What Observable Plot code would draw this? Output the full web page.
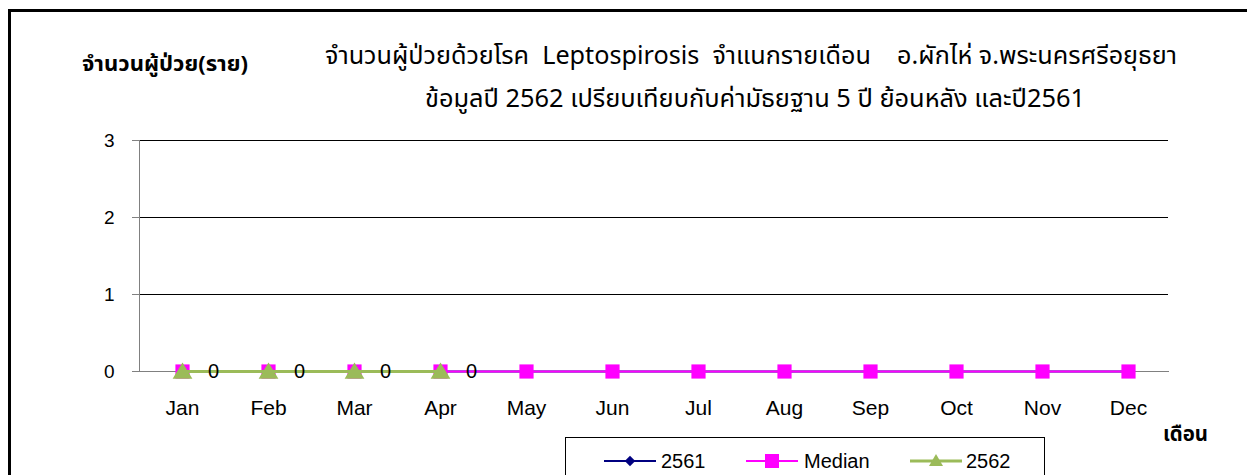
<!DOCTYPE html>
<html>
<head>
<meta charset="utf-8">
<script src="https://cdn.jsdelivr.net/npm/d3@7"></script>
<script src="https://cdn.jsdelivr.net/npm/@observablehq/plot@0.6"></script>
<style>
  html, body { margin: 0; padding: 0; background: #fff; }
  #wrap { position: relative; width: 1247px; height: 475px; overflow: hidden; font-family: Arial, "Liberation Sans", sans-serif; }
  #border { position: absolute; left: 8px; top: 9px; width: 1300px; height: 520px; border: 3px solid #000; box-sizing: border-box; }
  #chart { position: absolute; left: 0; top: 0; }
  .thai { font-family: "Noto Sans Thai", "Tahoma", "DejaVu Sans", sans-serif; position: absolute; white-space: nowrap; color: #000; line-height: 1; transform-origin: 0 50%; }
  #ytitle { left: 82px; top: 54px; font-size: 22px; font-weight: bold; }
  #title1 { left: 325px; top: 44px; font-size: 25px; }
  #title2 { left: 425px; top: 87px; font-size: 25px; }
  #xtitle { left: 1163px; top: 424px; font-size: 22px; font-weight: bold; }
  #legend { position: absolute; left: 565px; top: 437px; width: 480px; height: 60px; border: 1px solid #000; background: #fff; box-sizing: border-box; }
  #legend svg { position: absolute; left: 0; top: 0; }
</style>
</head>
<body>
<div id="wrap">
  <div id="border"></div>
  <div id="chart"></div>
  <div class="thai" id="ytitle">จำนวนผู้ป่วย(ราย)</div>
  <div class="thai" id="title1">จำนวนผู้ป่วยด้วยโรค&nbsp; Leptospirosis&nbsp; จำแนกรายเดือน&nbsp;&nbsp;&nbsp; อ.ผักไห่ จ.พระนครศรีอยุธยา</div>
  <div class="thai" id="title2">ข้อมูลปี 2562 เปรียบเทียบกับค่ามัธยฐาน 5 ปี ย้อนหลัง และปี2561</div>
  <div class="thai" id="xtitle">เดือน</div>
  <div id="legend"></div>
</div>
<script>
const months = ["Jan","Feb","Mar","Apr","May","Jun","Jul","Aug","Sep","Oct","Nov","Dec"];
const values2561 = [0,0,0,0,0,0,0,0,0,0,0,0];
const valuesMedian = [0,0,0,0,0,0,0,0,0,0,0,0];
const values2562 = [0,0,0,0];
const yTicks = [0,1,2,3];
const seriesNames = ["2561","Median","2562"];
const seriesColors = ["#000080","#FF00FF","#9BBB59"];

const d2561 = values2561.map((v,i)=>({month: months[i], value: v}));
const dMed = valuesMedian.map((v,i)=>({month: months[i], value: v}));
const d2562 = values2562.map((v,i)=>({month: months[i], value: v}));

const triangle = {draw(ctx, r){ const s = 9; ctx.moveTo(0,-s); ctx.lineTo(s*1.1, s*0.8); ctx.lineTo(-s*1.1, s*0.8); ctx.closePath(); }};

const chart = Plot.plot({
  width: 1247,
  height: 475,
  marginLeft: 139,
  marginRight: 79,
  marginTop: 140,
  marginBottom: 104,
  style: {fontFamily: "Arial, 'Liberation Sans', sans-serif", fontSize: "18px", background: "transparent", overflow: "visible"},
  x: {type: "point", domain: months, range: [181, 1128], padding: 0},
  y: {domain: [0,3]},
  marks: [
    Plot.ruleY(yTicks.filter(d => d > 0), {stroke: "#000", strokeWidth: 1}),
    Plot.axisY({ticks: yTicks, tickSize: 7, tickPadding: 18, fontSize: 19, stroke: "#808080", strokeOpacity: 1, label: null, tickFormat: d => d}),
    Plot.frame({anchor: "left", stroke: "#808080"}),
    Plot.frame({anchor: "bottom", stroke: "#808080"}),
    Plot.axisX({tickSize: 0, tickPadding: 29, fontSize: 21, label: null}),
    Plot.line(d2561, {x: "month", y: "value", stroke: seriesColors[0], strokeWidth: 2}),
    Plot.dot(d2561, {x: "month", y: "value", symbol: "diamond2", r: 5, fill: seriesColors[0], stroke: "none"}),
    Plot.line(dMed, {x: "month", y: "value", stroke: seriesColors[1], strokeWidth: 2}),
    Plot.dot(dMed, {x: "month", y: "value", symbol: "square", r: 8, fill: seriesColors[1], stroke: "none"}),
    Plot.line(d2562, {x: "month", y: "value", stroke: seriesColors[2], strokeWidth: 3}),
    Plot.dot(d2562, {x: "month", y: "value", symbol: triangle, r: 9, fill: seriesColors[2], stroke: "none"}),
    Plot.text(d2562, {x: "month", y: "value", text: d => String(d.value), dx: 31, fontSize: 20, fill: "#000"})
  ]
});
document.getElementById("chart").appendChild(chart);

// fit Thai titles to reference widths
function fitWidth(id, target) {
  const el = document.getElementById(id);
  const w = el.getBoundingClientRect().width;
  if (w > 0) el.style.transform = `scaleX(${target / w})`;
}
fitWidth("title1", 852);
fitWidth("title2", 660);
fitWidth("ytitle", 166);
fitWidth("xtitle", 45);

// legend
const lg = d3.select("#legend").append("svg").attr("width", 480).attr("height", 60);
const items = [
  {x0: 38, tx: 95, sym: "diamond"},
  {x0: 180, tx: 238, sym: "square"},
  {x0: 344, tx: 400, sym: "triangle"}
];
items.forEach((it, i) => {
  const g = lg.append("g");
  const cy = 23;
  g.append("line").attr("x1", it.x0).attr("x2", it.x0 + 52).attr("y1", cy).attr("y2", cy)
    .attr("stroke", seriesColors[i]).attr("stroke-width", i === 2 ? 3 : 2);
  const cx = it.x0 + 26;
  if (it.sym === "diamond") g.append("path").attr("d", d3.symbol(d3.symbolDiamond2, 70)()).attr("transform", `translate(${cx},${cy})`).attr("fill", seriesColors[i]);
  if (it.sym === "square") g.append("rect").attr("x", cx-7).attr("y", cy-7).attr("width", 14).attr("height", 14).attr("fill", seriesColors[i]);
  if (it.sym === "triangle") g.append("path").attr("d", `M${cx},${cy-7}L${cx+7},${cy+5}L${cx-7},${cy+5}Z`).attr("fill", seriesColors[i]);
  g.append("text").attr("x", it.tx).attr("y", cy).attr("dy", "0.35em").attr("font-size", 20)
    .attr("font-family", "Arial, 'Liberation Sans', sans-serif").text(seriesNames[i]);
});
</script>
</body>
</html>
